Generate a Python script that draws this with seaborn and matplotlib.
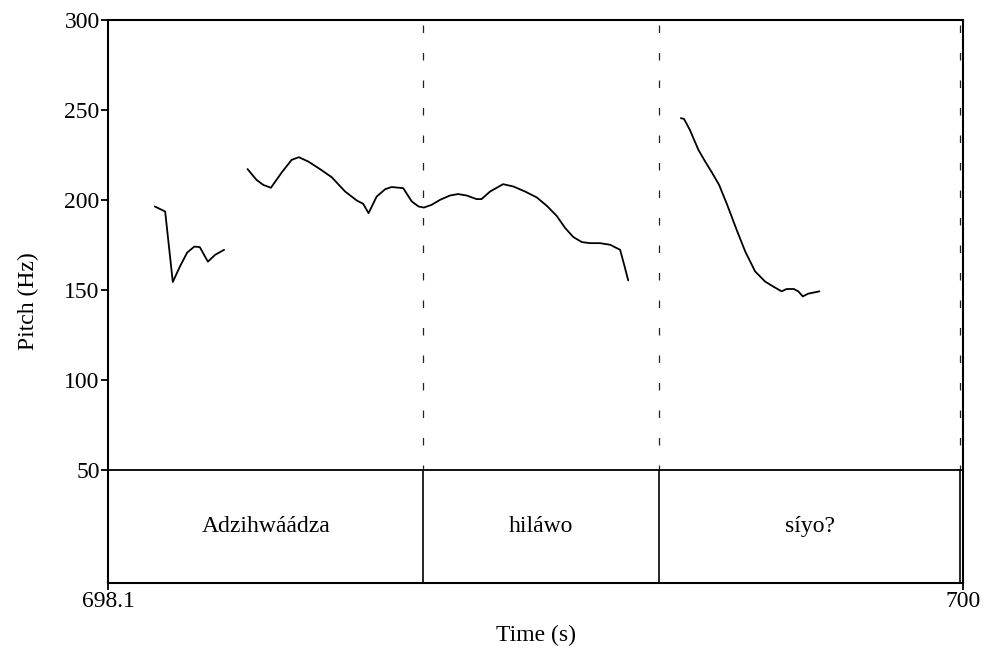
import numpy as np
import pandas as pd
import matplotlib
matplotlib.use("Agg")
import matplotlib.pyplot as plt
import seaborn as sns

# ---- data ----
seg1_t = [698.204, 698.227, 698.244, 698.260, 698.276, 698.292, 698.304, 698.322, 698.338, 698.358]
seg1_f = [196.3, 193.5, 154.3, 163.0, 170.7, 174.0, 173.7, 165.6, 169.4, 172.2]

seg2_t = [698.410, 698.430, 698.445, 698.462, 698.486, 698.508, 698.524, 698.545, 698.571,
          698.597, 698.627, 698.653, 698.667, 698.679, 698.697, 698.716, 698.730, 698.756,
          698.775, 698.790, 698.802, 698.819, 698.838, 698.860, 698.878, 698.897, 698.919,
          698.930, 698.949, 698.978, 699.001, 699.027, 699.053, 699.075, 699.097, 699.116,
          699.134, 699.153, 699.171, 699.193, 699.216, 699.238, 699.247, 699.256]
seg2_f = [217.1, 211.1, 208.3, 206.7, 215.2, 222.2, 223.7, 221.3, 217.1,
          212.6, 204.6, 199.6, 197.8, 192.6, 201.8, 205.9, 207.1, 206.5,
          199.1, 196.3, 195.7, 197.2, 200.0, 202.4, 203.2, 202.4, 200.4,
          200.4, 204.6, 208.7, 207.4, 204.6, 201.3, 196.7, 191.1, 184.3,
          179.3, 176.5, 175.9, 175.9, 175.0, 172.2, 163.9, 155.2]

seg3_t = [699.373, 699.380, 699.393, 699.412, 699.427, 699.442, 699.458, 699.476, 699.497,
          699.516, 699.538, 699.560, 699.578, 699.597, 699.608, 699.624, 699.634, 699.644,
          699.656, 699.681]
seg3_f = [245.4, 245.0, 238.9, 227.8, 221.3, 215.2, 208.3, 197.2, 183.3,
          171.3, 160.2, 154.6, 151.8, 149.1, 150.4, 150.4, 149.1, 146.3,
          147.8, 149.1]

boundaries = [698.8007, 699.325, 699.993]
words = ["Adzihwáádza", "hiláwo", "síyo?"]
t_start, t_end = 698.1, 700.0
yticks = [50, 100, 150, 200, 250, 300]
f_min, f_max = 50, 300
tier_bottom = -13.1

# ---- build frame ----
df = pd.concat([
    pd.DataFrame({"time": seg1_t, "pitch": seg1_f, "seg": 1}),
    pd.DataFrame({"time": seg2_t, "pitch": seg2_f, "seg": 2}),
    pd.DataFrame({"time": seg3_t, "pitch": seg3_f, "seg": 3}),
])

sns.set_theme(style="white")
plt.rcParams["font.family"] = ["Liberation Serif", "DejaVu Serif"]
plt.rcParams["text.color"] = "black"
plt.rcParams["axes.labelcolor"] = "black"
plt.rcParams["xtick.color"] = "black"
plt.rcParams["ytick.color"] = "black"

fig = plt.figure(figsize=(9.84, 6.49), dpi=100)
ax = fig.add_axes([108/984, 1 - 583/649, (963-108)/984, (583-20)/649])

sns.lineplot(data=df, x="time", y="pitch", units="seg", estimator=None,
             sort=False, color="black", linewidth=1.3, ax=ax)

ax.set_xlim(t_start, t_end)
ax.set_ylim(tier_bottom, f_max)

# tier separator
ax.axhline(f_min, color="black", linewidth=1.3)

# boundaries: dashed in pitch area, solid in tier
for b in boundaries:
    ax.plot([b, b], [f_min, f_max], color="#222222", linewidth=0.9,
            linestyle=(2, (6, 16)))
    ax.plot([b, b], [tier_bottom, f_min], color="black", linewidth=1.2)

# words
edges = [t_start] + boundaries
for i, w in enumerate(words):
    xm = (edges[i] + edges[i + 1]) / 2
    ax.text(xm, (tier_bottom + f_min) / 2, w, ha="center", va="center",
            fontsize=17, color="black")

for s in ax.spines.values():
    s.set_color("black")
    s.set_linewidth(1.5)

ax.set_yticks(yticks)
ax.set_yticklabels([str(v) for v in yticks])
ax.set_xticks([t_start, t_end])
ax.set_xticklabels(["698.1", "700"])
ax.tick_params(axis="both", direction="out", length=5, width=1.3,
               color="black", labelcolor="black", labelsize=17, pad=1,
               bottom=True, left=True)
ax.set_xlabel("Time (s)", fontsize=17, labelpad=9, color="black")
ax.set_ylabel("Pitch (Hz)", fontsize=17, labelpad=18, color="black")
ax.grid(False)

fig.savefig("out.png", dpi=100, facecolor="white")
